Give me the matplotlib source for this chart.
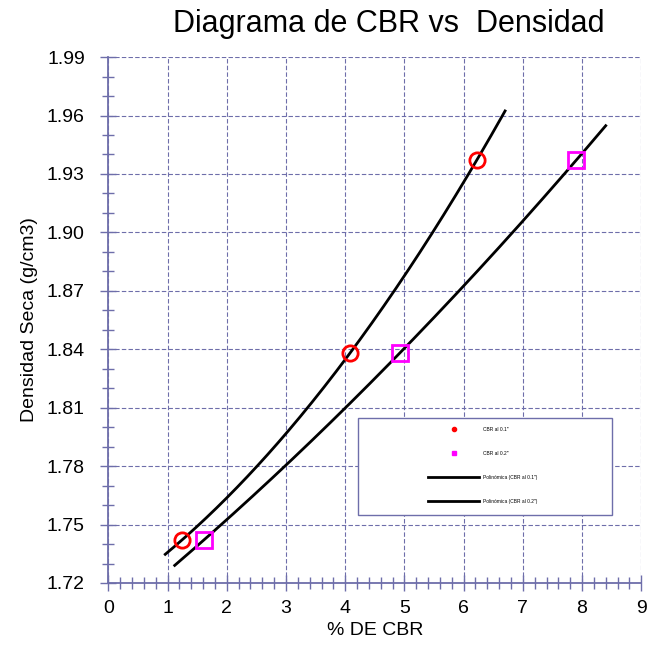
import numpy as np
import matplotlib.pyplot as plt
from matplotlib.ticker import MultipleLocator
from matplotlib.lines import Line2D
from matplotlib.patches import Rectangle

plt.rcParams['font.family'] = ['Liberation Sans', 'DejaVu Sans']

# CBR al 0.1"
cbr_01 = [1.24, 4.08, 6.22]
dens_01 = [1.742, 1.838, 1.937]
# CBR al 0.2"
cbr_02 = [1.61, 4.92, 7.90]
dens_02 = [1.742, 1.838, 1.937]

# trend line ranges (with forecast)
trend_01_range = [0.96, 6.70]
trend_02_range = [1.12, 8.40]

y_ticks = [1.72, 1.75, 1.78, 1.81, 1.84, 1.87, 1.90, 1.93, 1.96, 1.99]

grid_col = '#6e6eaa'

fig = plt.figure(figsize=(6.53, 6.64), dpi=100)
ax = fig.add_axes([0.166, 0.122, 0.816, 0.792])

# polynomial (order 2) trend lines
p1 = np.polyfit(cbr_01, dens_01, 2)
x1 = np.linspace(trend_01_range[0], trend_01_range[1], 200)
p2 = np.polyfit(cbr_02, dens_02, 2)
x2 = np.linspace(trend_02_range[0], trend_02_range[1], 200)

ax.plot(cbr_01, dens_01, 'o', color='red', ms=11, mfc='none', mew=2, zorder=3)
ax.plot(cbr_02, dens_02, 's', color='magenta', ms=11, mfc='none', mew=2, zorder=3)
ax.plot(x1, np.polyval(p1, x1), color='black', lw=2)
ax.plot(x2, np.polyval(p2, x2), color='black', lw=2)

ax.set_xlim(0, 9)
ax.set_ylim(1.72, 1.99)
ax.xaxis.set_major_locator(MultipleLocator(1))
ax.xaxis.set_minor_locator(MultipleLocator(0.2))
ax.set_yticks(y_ticks)
ax.set_yticks(np.arange(1.72, 1.9901, 0.01), minor=True)
ax.set_yticklabels(['%.2f' % v for v in y_ticks])

ax.grid(True, which='major', color=grid_col, ls=(0, (4, 2)), lw=0.8)
ax.spines['top'].set_visible(False)
ax.spines['right'].set_visible(False)
for s in ['left', 'bottom']:
    ax.spines[s].set_color(grid_col)
    ax.spines[s].set_linewidth(1.3)

ax.tick_params(which='major', direction='inout', length=12, width=1, color=grid_col,
               labelsize=14)
ax.tick_params(axis='y', which='major', pad=11)
ax.tick_params(axis='x', which='major', pad=6)
ax.tick_params(which='minor', direction='inout', length=9, width=1, color=grid_col)

ax.set_xlabel('% DE CBR', fontsize=14, labelpad=4)
ax.set_ylabel('Densidad Seca (g/cm3)', fontsize=14, labelpad=6)
ax.set_title('Diagrama de CBR vs  Densidad', fontsize=22, pad=18, x=0.527)

# legend box
ax.add_patch(Rectangle((0.4685, 0.129), 0.477, 0.1844, transform=ax.transAxes,
                       facecolor='white', edgecolor=grid_col, lw=1, zorder=4))
handles = [
    Line2D([], [], ls='none', marker='o', color='red', ms=3),
    Line2D([], [], ls='none', marker='s', color='magenta', ms=3),
    Line2D([], [], color='black', lw=2),
    Line2D([], [], color='black', lw=2),
]
labels = ['CBR al 0.1"', 'CBR al 0.2"', 'Polinómica (CBR al 0.1")', 'Polinómica (CBR al 0.2")']
leg = ax.legend(handles, labels, loc='upper left', bbox_to_anchor=(0.600, 0.2966),
                fontsize=3.5, frameon=False, borderpad=0, borderaxespad=0,
                labelspacing=3.9, handlelength=10.5, handletextpad=0.8)
leg.set_zorder(5)

fig.savefig('out.png', dpi=100)
